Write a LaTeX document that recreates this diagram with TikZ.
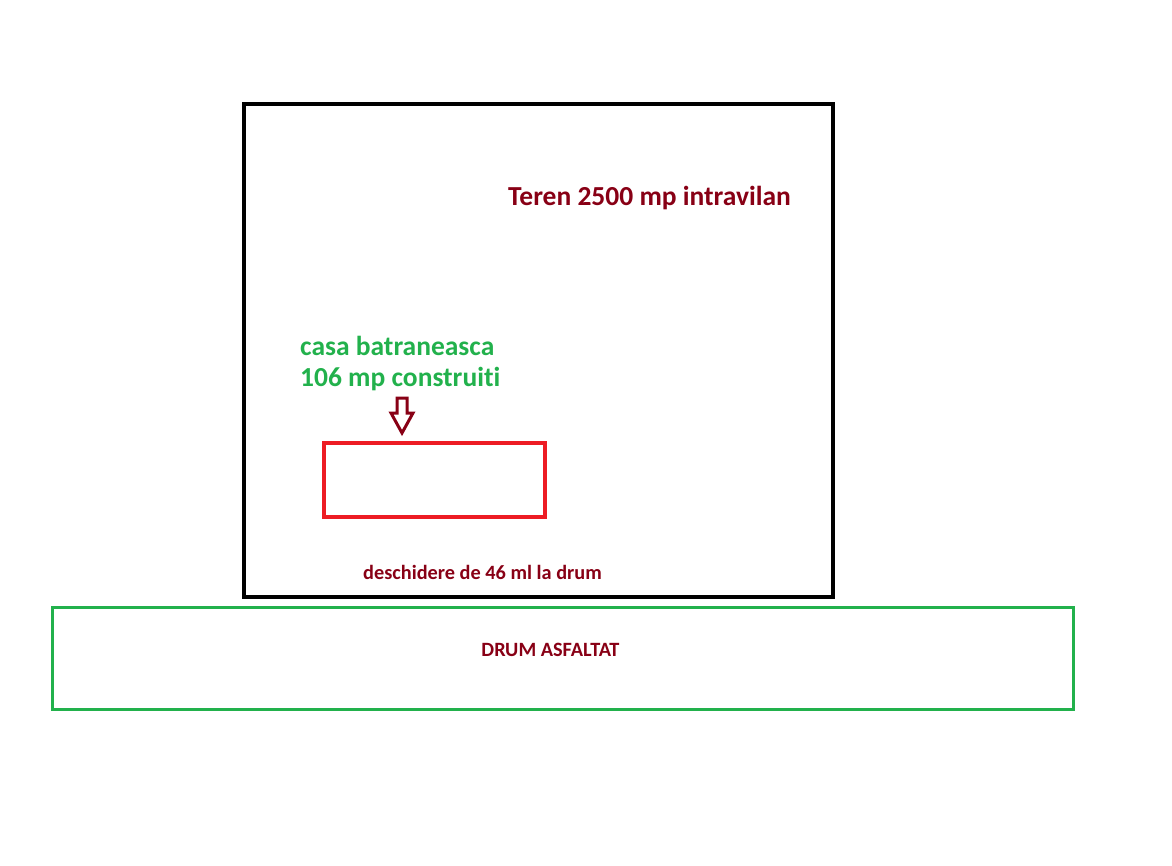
\documentclass[tikz,border=0pt]{standalone}
\usepackage{fontspec}
\setmainfont{Carlito}[Ligatures=NoCommon]
\usetikzlibrary{positioning}
\definecolor{paintred}{RGB}{237,28,36}
\definecolor{paintgreen}{RGB}{34,177,76}
\definecolor{darkred}{RGB}{136,0,21}

\begin{document}
\begin{tikzpicture}[x=1pt,y=-1pt]
        \tikzstyle{every node}=[inner sep=0pt,font=\bfseries]
        \tikzstyle{bigtext}=[font=\fontsize{27.5}{33}\selectfont\bfseries,anchor=west]
        \tikzstyle{smalltext}=[font=\fontsize{20.3}{24}\selectfont\bfseries,text=darkred]
        \useasboundingbox (0,0) rectangle (1172,866);
        % teren
        \node[draw,line width=4pt,minimum width=589pt,minimum height=493pt] (teren) at (538.5,350.5) {};
        % drum
        \node[draw=paintgreen,line width=3pt,minimum width=1021pt,minimum height=102pt] (drum) at (562.5,658) {};
        % casa
        \node[draw=paintred,line width=3.5pt,minimum width=221pt,minimum height=74pt] (casa) at (434.5,480) {};
        \node[bigtext,text=darkred] (terenlabel) at (508,198) {Teren 2500 mp intravilan};
        \node[bigtext,text=paintgreen] (casalabel) at (300,346) {casa batraneasca};
        \node[bigtext,text=paintgreen] (casalabel2) at (300,379) {106 mp construiti};
        \node[smalltext,anchor=west] (deschidere) at (363,572) {deschidere de 46 ml la drum};
        \node[smalltext] (drumlabel) at (550.5,650) {DRUM ASFALTAT};
        \draw[darkred,line width=3pt,line join=miter]
          (397,398) -- (407,398) -- (407,413) -- (413,413) -- (402,433)
          -- (391,413) -- (397,413) -- cycle;
\end{tikzpicture}
\end{document}
